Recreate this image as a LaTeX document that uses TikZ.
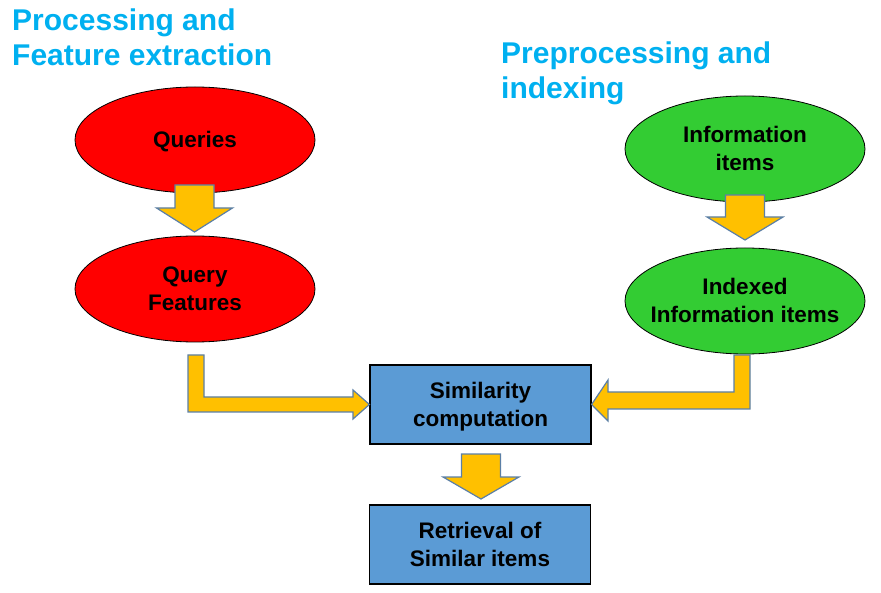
\documentclass[tikz,border=0pt]{standalone}
\usepackage{fontspec}
\setmainfont{Liberation Sans}
\usetikzlibrary{shapes.geometric}
\definecolor{titleblue}{HTML}{00B0F0}
\definecolor{qred}{HTML}{FF0000}
\definecolor{igreen}{HTML}{33CC33}
\definecolor{boxblue}{HTML}{5B9BD5}
\definecolor{arrfill}{HTML}{FFC000}
\definecolor{arredge}{HTML}{5B7FA6}
\tikzset{
  titletext/.style={anchor=north west,inner sep=0pt,align=left,text=titleblue,font=\fontsize{30}{35}\selectfont\bfseries},
  nodefont/.style={font=\fontsize{22.5}{28}\selectfont\bfseries,text height=45pt,text depth=1pt},
  oneline/.style={text height=17pt},
  ell/.style={ellipse,draw=black,line width=0.8pt,minimum width=240pt,minimum height=106pt,inner xsep=-25pt,inner ysep=-10pt,align=center,nodefont},
  redell/.style={ell,fill=qred},
  greenell/.style={ell,fill=igreen},
  procbox/.style={rectangle,draw=black,line width=1.2pt,fill=boxblue,minimum width=221pt,minimum height=79pt,inner sep=0pt,align=center,nodefont},
  blockarrow/.style={fill=arrfill,draw=arredge,line width=1.2pt,line join=miter}
}
\newcommand\mydownblock[4]{% center x, top, head y, tip
  \draw[blockarrow] (#1-19.5,#2) -- (#1+19.5,#2) -- (#1+19.5,#3) -- (#1+38,#3) -- (#1,#4) -- (#1-38,#3) -- (#1-19.5,#3) -- cycle;}
\begin{document}
\begin{tikzpicture}[x=1pt,y=-1pt]
\useasboundingbox (0,0) rectangle (881,593);
\node[titletext] (t1) at (12,9) {Processing and\\Feature extraction};
\node[titletext] (t2) at (501,42) {Preprocessing and\\indexing};

\node[redell,oneline] (q) at (195,140) {Queries};
\node[redell] (qf) at (195,289) {Query\\Features};
\node[greenell] (ii) at (745,149) {Information\\items};
\node[greenell] (iii) at (745,301) {Indexed\\Information items};
\node[procbox] (sim) at (480.5,404.5) {Similarity\\computation};
\node[procbox] (ret) at (480,544.5) {Retrieval of\\Similar items};

\mydownblock{194.5}{185}{208}{232}
\mydownblock{745}{195}{217}{240}
\mydownblock{481}{454}{477}{499}

\draw[blockarrow] (188,355) -- (204,355) -- (204,397) -- (353,397) -- (353,390) -- (sim.west) -- (353,419) -- (353,412) -- (188,412) -- cycle;
\draw[blockarrow] (734,355) -- (750,355) -- (750,409) -- (608,409) -- (608,421) -- (sim.east) -- (608,380) -- (608,392) -- (734,392) -- cycle;
\end{tikzpicture}
\end{document}
